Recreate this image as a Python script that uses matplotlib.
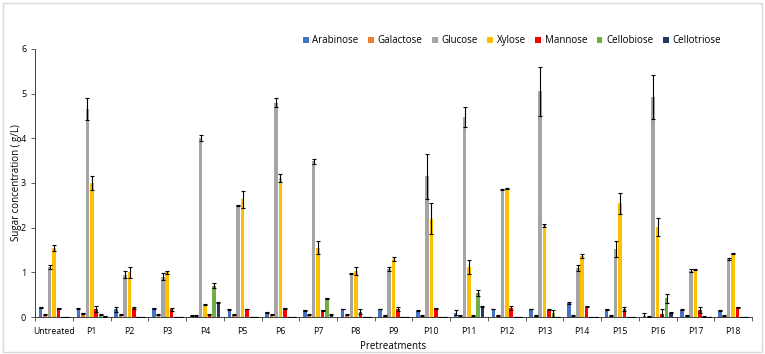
import matplotlib
matplotlib.use("Agg")
import matplotlib.pyplot as plt
import numpy as np
from matplotlib.patches import Rectangle

categories = ["Untreated", "P1", "P2", "P3", "P4", "P5", "P6", "P7", "P8", "P9",
              "P10", "P11", "P12", "P13", "P14", "P15", "P16", "P17", "P18"]
series = ["Arabinose", "Galactose", "Glucose", "Xylose", "Mannose", "Cellobiose", "Cellotriose"]

arabinose   = [0.22, 0.20, 0.17, 0.20, 0.03, 0.17, 0.11, 0.15, 0.18, 0.18, 0.14, 0.10, 0.18, 0.18, 0.31, 0.17, 0.03, 0.16, 0.14]
galactose   = [0.05, 0.08, 0.05, 0.05, 0.03, 0.05, 0.05, 0.05, 0.05, 0.04, 0.04, 0.03, 0.04, 0.04, 0.04, 0.03, 0.01, 0.04, 0.03]
glucose     = [1.12, 4.65, 0.95, 0.90, 4.00, 2.50, 4.79, 3.48, 0.98, 1.08, 3.15, 4.47, 2.85, 5.05, 1.10, 1.52, 4.92, 1.04, 1.30]
xylose      = [1.55, 3.00, 1.00, 1.00, 0.27, 2.63, 3.11, 1.55, 1.03, 1.30, 2.20, 1.12, 2.88, 2.05, 1.37, 2.54, 2.01, 1.06, 1.43]
mannose     = [0.20, 0.18, 0.20, 0.17, 0.05, 0.18, 0.20, 0.15, 0.12, 0.18, 0.20, 0.04, 0.20, 0.16, 0.23, 0.18, 0.07, 0.15, 0.22]
cellobiose  = [0.00, 0.05, 0.00, 0.01, 0.70, 0.01, 0.00, 0.42, 0.00, 0.00, 0.00, 0.53, 0.00, 0.08, 0.00, 0.00, 0.42, 0.02, 0.00]
cellotriose = [0.00, 0.02, 0.00, 0.00, 0.33, 0.00, 0.00, 0.06, 0.00, 0.00, 0.00, 0.23, 0.00, 0.00, 0.00, 0.00, 0.10, 0.00, 0.00]

arabinose_err   = [0.01, 0.01, 0.05, 0.01, 0.01, 0.01, 0.01, 0.01, 0.01, 0.01, 0.01, 0.05, 0.01, 0.01, 0.03, 0.01, 0.05, 0.01, 0.01]
galactose_err   = [0.01, 0.01, 0.01, 0.01, 0.01, 0.01, 0.01, 0.01, 0.01, 0.01, 0.01, 0.01, 0.01, 0.01, 0.01, 0.01, 0.01, 0.01, 0.01]
glucose_err     = [0.05, 0.25, 0.08, 0.08, 0.07, 0.01, 0.10, 0.05, 0.01, 0.05, 0.50, 0.22, 0.01, 0.55, 0.06, 0.17, 0.50, 0.03, 0.02]
xylose_err      = [0.07, 0.15, 0.12, 0.04, 0.01, 0.18, 0.10, 0.15, 0.10, 0.05, 0.35, 0.15, 0.01, 0.03, 0.04, 0.23, 0.20, 0.01, 0.01]
mannose_err     = [0.01, 0.07, 0.03, 0.04, 0.01, 0.01, 0.01, 0.01, 0.05, 0.05, 0.01, 0.01, 0.04, 0.01, 0.01, 0.04, 0.12, 0.07, 0.01]
cellobiose_err  = [0.00, 0.01, 0.00, 0.00, 0.05, 0.00, 0.00, 0.01, 0.00, 0.00, 0.00, 0.07, 0.00, 0.08, 0.00, 0.00, 0.10, 0.01, 0.00]
cellotriose_err = [0.00, 0.01, 0.00, 0.00, 0.01, 0.00, 0.00, 0.01, 0.00, 0.00, 0.00, 0.01, 0.00, 0.00, 0.00, 0.00, 0.01, 0.00, 0.00]

values = [arabinose, galactose, glucose, xylose, mannose, cellobiose, cellotriose]
errors = [arabinose_err, galactose_err, glucose_err, xylose_err, mannose_err, cellobiose_err, cellotriose_err]
colors = ["#4472C4", "#ED7D31", "#A5A5A5", "#FFC000", "#FF0000", "#70AD47", "#1F3864"]

plt.rcParams['font.family'] = ['Open Sans', 'DejaVu Sans']

fig = plt.figure(figsize=(7.65, 3.54), dpi=100)
ax = fig.add_axes([0.046, 0.1045, 0.937, 0.7575])

x = np.arange(len(categories))
step = 0.118
width = 0.095
for i, (name, vals, errs, c) in enumerate(zip(series, values, errors, colors)):
    pos = x + (i - 3) * step
    ax.bar(pos, vals, width=width, color=c, label=name, zorder=2)
    ax.errorbar(pos, vals, yerr=errs, fmt='none', ecolor='black', elinewidth=0.8,
                capsize=1.5, capthick=0.8, zorder=3)

ax.set_xlim(-0.5, len(categories) - 0.5)
ax.set_ylim(0, 6)
ax.set_yticks(range(7))
ax.set_xticks(x)
ax.set_xticklabels(categories, fontsize=6.3)
ax.tick_params(axis='x', length=0, pad=7)
ax.set_xticks(np.arange(-0.5, len(categories), 1), minor=True)
ax.tick_params(axis='x', which='minor', length=3, color='#404040', width=0.6)
ax.tick_params(axis='y', labelsize=6.5, length=3, width=0.6, color='#404040')

for s in ['top', 'right']:
    ax.spines[s].set_visible(False)
for s in ['left', 'bottom']:
    ax.spines[s].set_color('#404040')
    ax.spines[s].set_linewidth(0.7)

ax.set_ylabel("Sugar concentration ( g/L)", fontsize=7, labelpad=-1)
ax.set_xlabel("Pretreatments", fontsize=7, labelpad=4)

leg = ax.legend(ncol=7, loc='center', bbox_to_anchor=(0.665, 1.03), frameon=False,
                fontsize=7, handlelength=0.6, handleheight=0.6, handletextpad=0.4,
                columnspacing=0.95, borderaxespad=0)

fig.patches.append(Rectangle((0.004, 0.006), 0.992, 0.985, transform=fig.transFigure,
                             fill=False, edgecolor='#D9D9D9', linewidth=1.0))

fig.savefig("out.png", dpi=100)
